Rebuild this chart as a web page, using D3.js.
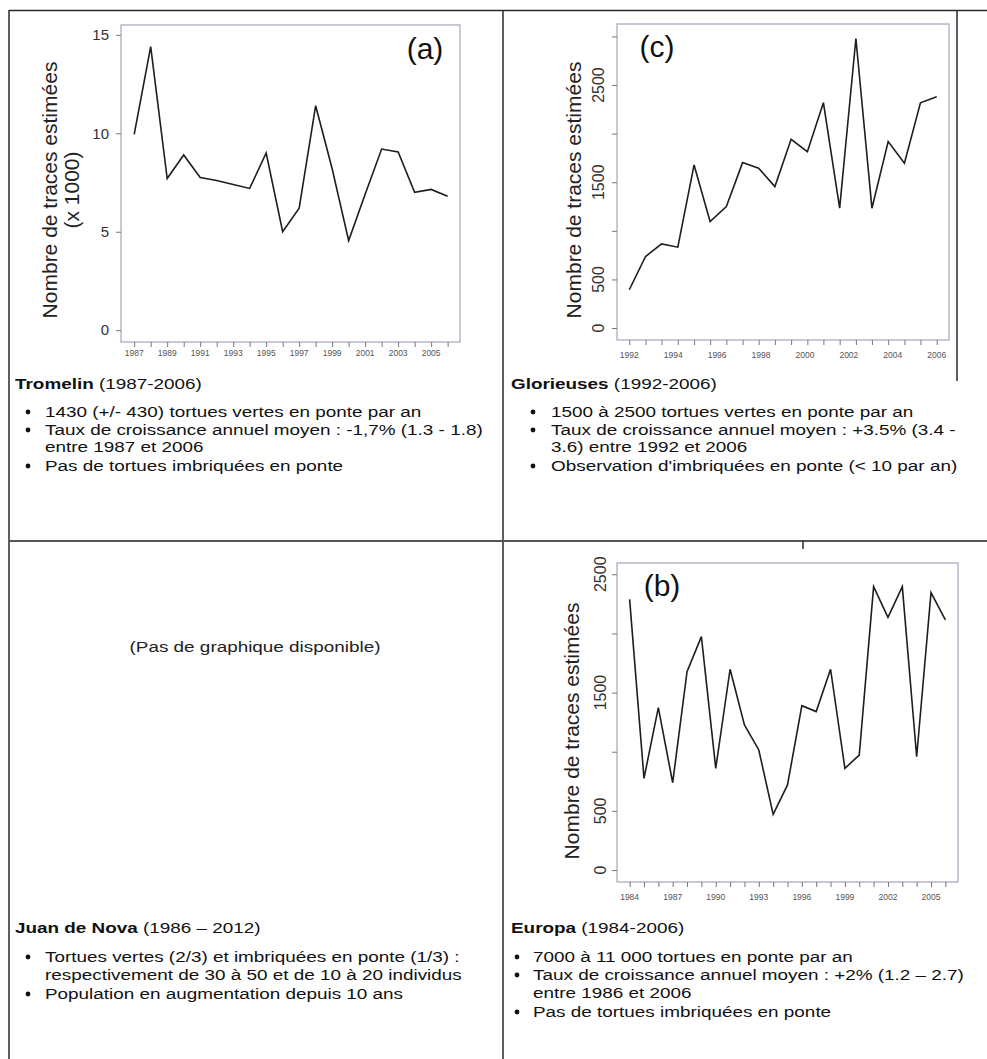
<!DOCTYPE html>
<html><head><meta charset="utf-8">
<script src="https://cdn.jsdelivr.net/npm/d3@7"></script>
<style>
body{margin:0;background:#fff}
svg{display:block}
text{font-family:"Liberation Sans",Arial,Helvetica,sans-serif}
</style>
</head><body>
<svg id="chart" width="987" height="1059"></svg>
<script>
// ---------------- DATA ----------------
// (a) Tromelin, traces x 1000
const tromelinYears = [1987,1988,1989,1990,1991,1992,1993,1994,1995,1996,1997,1998,1999,2000,2001,2002,2003,2004,2005,2006];
const tromelinValues = [9.95,14.4,7.7,8.9,7.75,7.6,7.4,7.2,9.0,5.0,6.2,11.4,8.2,4.55,6.9,9.2,9.05,7.0,7.15,6.8];
const tromelinYTicks = [0,5,10,15];
const tromelinYLabels = [0,5,10,15];
const tromelinXLabels = [1987,1989,1991,1993,1995,1997,1999,2001,2003,2005];

// (c) Glorieuses
const glorieusesDates = [1992.00,1992.74,1993.47,1994.21,1994.95,1995.68,1996.42,1997.16,1997.89,1998.63,1999.37,2000.11,2000.84,2001.58,2002.32,2003.05,2003.79,2004.53,2005.26,2006.00];
const glorieusesValues = [394,736,866,832,1678,1096,1250,1702,1644,1455,1942,1815,2318,1233,2979,1233,1918,1695,2318,2380];
const glorieusesYTicks = [0,500,1000,1500,2000,2500,3000];
const glorieusesYLabels = [0,500,1500,2500];
const glorieusesXLabels = [1992,1994,1996,1998,2000,2002,2004,2006];

// (b) Europa
const europaYears = [1984,1985,1986,1987,1988,1989,1990,1991,1992,1993,1994,1995,1996,1997,1998,1999,2000,2001,2002,2003,2004,2005,2006];
const europaValues = [2288,775,1372,738,1677,1973,860,1697,1226,1015,471,719,1389,1339,1697,860,972,2395,2136,2395,958,2345,2114];
const europaYTicks = [0,500,1000,1500,2000,2500];
const europaYLabels = [0,500,1500,2500];
const europaXLabels = [1984,1987,1990,1993,1996,1999,2002,2005];

// Text blocks
const tromelinTitle = ["Tromelin", " (1987-2006)"];
const tromelinBullets = [["1430 (+/- 430) tortues vertes en ponte par an"],["Taux de croissance annuel moyen : -1,7% (1.3 - 1.8)","entre 1987 et 2006"],["Pas de tortues imbriquées en ponte"]];
const glorieusesTitle = ["Glorieuses", " (1992-2006)"];
const glorieusesBullets = [["1500 à 2500 tortues vertes en ponte par an"],["Taux de croissance annuel moyen : +3.5% (3.4 -","3.6) entre 1992 et 2006"],["Observation d'imbriquées en ponte (< 10 par an)"]];
const juanTitle = ["Juan de Nova", " (1986 – 2012)"];
const juanBullets = [["Tortues vertes (2/3) et imbriquées en ponte (1/3) :","respectivement de 30 à 50 et de 10 à 20 individus"],["Population en augmentation depuis 10 ans"]];
const europaTitle = ["Europa", " (1984-2006)"];
const europaBullets = [["7000 à 11 000 tortues en ponte par an"],["Taux de croissance annuel moyen : +2% (1.2 – 2.7)","entre 1986 et 2006"],["Pas de tortues imbriquées en ponte"]];
const noChartText = "(Pas de graphique disponible)";
const yTitle = "Nombre de traces estimées";
const yTitleSub = "(x 1000)";

// ---------------- DRAW ----------------
const svg = d3.select("#chart");
svg.append("rect").attr("width",987).attr("height",1059).attr("fill","#fff");

const grid = svg.append("g").attr("stroke","#2a2a2a").attr("stroke-width",1.5);
grid.append("line").attr("x1",9).attr("y1",10.5).attr("x2",987).attr("y2",10.5);
grid.append("line").attr("x1",9).attr("y1",10).attr("x2",9).attr("y2",1059);
grid.append("line").attr("x1",503).attr("y1",10).attr("x2",503).attr("y2",1059);
grid.append("line").attr("x1",9).attr("y1",541).attr("x2",987).attr("y2",541).attr("stroke","#555").attr("stroke-width",2);
grid.append("line").attr("x1",957).attr("y1",10).attr("x2",957).attr("y2",381);
grid.append("line").attr("x1",803).attr("y1",541).attr("x2",803).attr("y2",549);

function panel(o){
  const g = svg.append("g");
  const x = d3.scaleLinear().domain(o.xDomain).range([o.x0,o.x1]);
  const y = d3.scaleLinear().domain(o.yDomain).range([o.y1,o.y0]);
  g.append("rect").attr("x",o.x0).attr("y",o.y0).attr("width",o.x1-o.x0).attr("height",o.y1-o.y0)
    .attr("fill","none").attr("stroke","#a4a4bc").attr("stroke-width",1.2);
  const ya = g.append("g").attr("transform",`translate(${o.x0},0)`)
    .call(d3.axisLeft(y).tickValues(o.yTicks).tickSize(5).tickFormat(""));
  ya.select(".domain").remove();
  ya.selectAll("line").attr("stroke","#777");
  o.yLabels.forEach(d=>{
    const t = g.append("text").text(d).attr("fill","#333").attr("font-size",o.yFont);
    if(o.rotateY){
      t.attr("x",o.yLabelX).attr("y",y(d)).attr("text-anchor","middle").attr("dy","0.35em")
       .attr("transform",`rotate(-90,${o.yLabelX},${y(d)})`);
    } else {
      t.attr("x",o.yLabelX).attr("y",y(d)).attr("text-anchor","end").attr("dy","0.35em");
    }
  });
  const xa = g.append("g").attr("transform",`translate(0,${o.y1})`)
    .call(d3.axisBottom(x).tickValues(o.xTicks).tickSize(5).tickFormat(""));
  xa.select(".domain").remove();
  xa.selectAll("line").attr("stroke","#777");
  o.xLabels.forEach(d=>{
    g.append("text").text(d).attr("x",x(d)).attr("y",o.xLabelY).attr("text-anchor","middle")
      .attr("font-size",8.5).attr("fill","#555");
  });
  const line = d3.line().x(d=>x(d[0])).y(d=>y(d[1]));
  g.append("path").datum(o.xs.map((d,i)=>[d,o.ys[i]])).attr("d",line)
    .attr("fill","none").attr("stroke","#1e1e1e").attr("stroke-width",1.6).attr("stroke-linejoin","miter");
  o.titles.forEach(t=>{
    g.append("text").text(t.text).attr("x",t.x).attr("y",o.titleCY).attr("text-anchor","middle")
      .attr("dy","0.35em").attr("font-size",21).attr("fill","#222")
      .attr("transform",`rotate(-90,${t.x},${o.titleCY})`);
  });
  g.append("text").text(o.tag).attr("x",o.tagX).attr("y",o.tagY).attr("text-anchor","middle")
    .attr("font-size",30).attr("fill","#111");
}

panel({x0:121,x1:460,y0:25,y1:342,xDomain:[1986.2,2006.75],yDomain:[-0.6,15.5],
  xs:tromelinYears,ys:tromelinValues,xTicks:tromelinYears,xLabels:tromelinXLabels,
  yTicks:tromelinYTicks,yLabels:tromelinYLabels,rotateY:false,yLabelX:109,yFont:15,
  xLabelY:356,titles:[{text:yTitle,x:50},{text:yTitleSub,x:72}],titleCY:190,
  tag:"(a)",tagX:425,tagY:59});

panel({x0:617,x1:949,y0:24,y1:340,xDomain:[1991.44,2006.56],yDomain:[-123,3128],
  xs:glorieusesDates,ys:glorieusesValues,xTicks:glorieusesDates,xLabels:glorieusesXLabels,
  yTicks:glorieusesYTicks,yLabels:glorieusesYLabels,rotateY:true,yLabelX:598,yFont:16,
  xLabelY:358,titles:[{text:yTitle,x:574}],titleCY:190,
  tag:"(c)",tagX:657,tagY:57});

panel({x0:617,x1:958,y0:563,y1:882,xDomain:[1983.12,2006.88],yDomain:[-101,2595],
  xs:europaYears,ys:europaValues,xTicks:europaYears,xLabels:europaXLabels,
  yTicks:europaYTicks,yLabels:europaYLabels,rotateY:true,yLabelX:600,yFont:16,
  xLabelY:900,titles:[{text:yTitle,x:572}],titleCY:731,
  tag:"(b)",tagX:662,tagY:596});

// text blocks: body text is wide (horizontally stretched) as in the reference
const FS = 15, SX = 1.26;
function wideText(x, y, anchor){
  return svg.append("text").attr("x",0).attr("y",0).attr("font-size",FS).attr("fill","#111")
    .attr("text-anchor",anchor||"start")
    .attr("transform",`translate(${x},${y}) scale(${SX},1)`);
}
function block(title, bullets, x, bulletX, textX, titleY, lineYs){
  const t = wideText(x,titleY);
  t.append("tspan").attr("font-weight","bold").text(title[0]);
  t.append("tspan").text(title[1]);
  let k=0;
  bullets.forEach(b=>{
    svg.append("circle").attr("cx",bulletX).attr("cy",lineYs[k]-5).attr("r",2.4).attr("fill","#111");
    b.forEach(line=>{
      wideText(textX,lineYs[k]).text(line);
      k++;
    });
  });
}
block(tromelinTitle,tromelinBullets,15,28,45,389,[417,435,452,471]);
block(glorieusesTitle,glorieusesBullets,511,533,551,389,[417,435,452,471]);
block(juanTitle,juanBullets,15,28,45,933,[962,980,999]);
block(europaTitle,europaBullets,511,517,533,933,[962,980,998,1017]);

wideText(255,652,"middle").attr("fill","#222").text(noChartText);
</script>
</body></html>
